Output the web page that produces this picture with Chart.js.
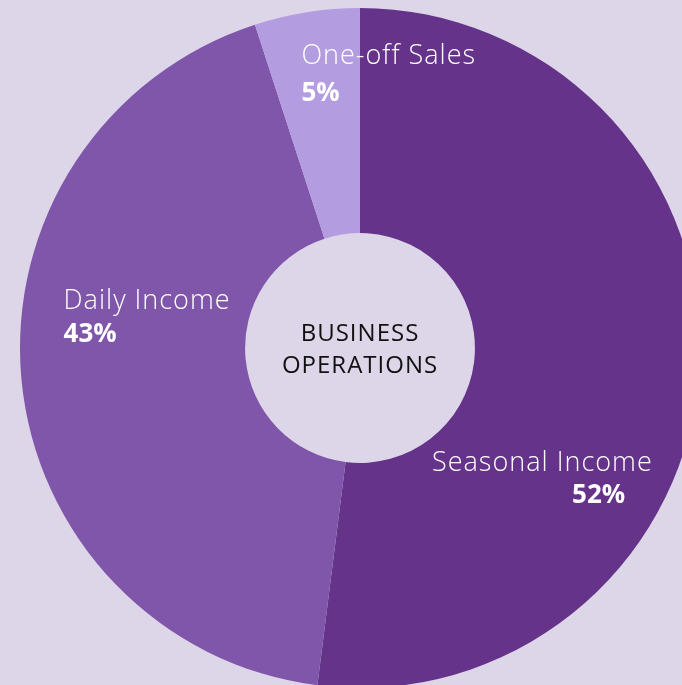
<!DOCTYPE html>
<html lang="en">
<head>
  <meta charset="UTF-8">
  <title>Business Operations</title>
  <script src="https://cdn.jsdelivr.net/npm/chart.js"></script>
  <style>
    html, body { margin: 0; padding: 0; }
    body { width: 682px; height: 685px; overflow: hidden; background: #ddd5e8; position: relative; }
    #wrap { position: absolute; left: 20px; top: 8px; width: 680px; height: 680px; }
  </style>
</head>
<body>
  <div id="wrap"><canvas id="grafico" width="680" height="680"></canvas></div>

  <script>
    const categorias = ['Seasonal Income', 'Daily Income', 'One-off Sales'];
    const valores = [52, 43, 5];
    const colores = ['#65338a', '#7f56aa', '#b39de0'];
    const tituloCentro = ['BUSINESS', 'OPERATIONS'];

    // where each label sits relative to the slice's middle point
    const desplazamientos = [
      { dx: -155, dy: 109, pdx: -15, pdy: 141 },
      { dx: -70, dy: -60, pdx: -70, pdy: -27 },
      { dx: -23, dy: -59, pdx: -23, pdy: -22 }
    ];

    const FUENTE = '"Open Sans", "DejaVu Sans", sans-serif';

    const etiquetas = {
      id: 'etiquetas',
      afterDatasetsDraw(chart) {
        const ctx = chart.ctx;
        const meta = chart.getDatasetMeta(0);
        ctx.save();
        ctx.textAlign = 'left';
        ctx.textBaseline = 'alphabetic';
        ctx.fillStyle = '#ffffff';
        meta.data.forEach((arco, i) => {
          const p = arco.tooltipPosition();
          const d = desplazamientos[i];
          ctx.letterSpacing = '1px';
          ctx.font = '300 27px ' + FUENTE;
          ctx.fillText(categorias[i], p.x + d.dx, p.y + d.dy);
          ctx.letterSpacing = '0px';
          ctx.font = 'bold 26px ' + FUENTE;
          ctx.fillText(valores[i] + '%', p.x + d.pdx, p.y + d.pdy);
        });

        const c = meta.data[0];
        ctx.textAlign = 'center';
        ctx.fillStyle = '#111111';
        ctx.letterSpacing = '1px';
        ctx.font = '400 24px ' + FUENTE;
        ctx.fillText(tituloCentro[0], c.x, c.y - 7);
        ctx.fillText(tituloCentro[1], c.x, c.y + 25);
        ctx.restore();
      }
    };

    new Chart(document.getElementById('grafico'), {
      type: 'doughnut',
      data: {
        labels: categorias,
        datasets: [{
          data: valores,
          backgroundColor: colores,
          borderWidth: 0
        }]
      },
      options: {
        responsive: false,
        animation: false,
        cutout: '33.8%',
        layout: { padding: 0 },
        plugins: {
          legend: { display: false },
          tooltip: { enabled: false }
        }
      },
      plugins: [etiquetas]
    });
  </script>
</body>
</html>
